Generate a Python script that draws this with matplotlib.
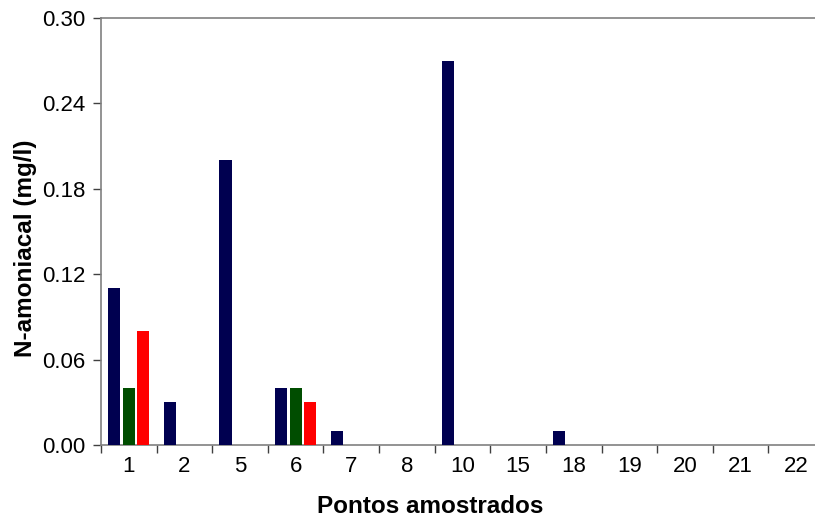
import matplotlib
matplotlib.use("Agg")
import matplotlib.pyplot as plt
import numpy as np

categories = ["1", "2", "5", "6", "7", "8", "10", "15", "18", "19", "20", "21", "22"]
series_navy = [0.11, 0.03, 0.20, 0.04, 0.01, 0, 0.27, 0, 0.01, 0, 0, 0, 0]
series_green = [0.04, 0, 0, 0.04, 0, 0, 0, 0, 0, 0, 0, 0, 0]
series_red = [0.08, 0, 0, 0.03, 0, 0, 0, 0, 0, 0, 0, 0, 0]
y_ticks = [0.00, 0.06, 0.12, 0.18, 0.24, 0.30]

plt.rcParams['font.family'] = ['Liberation Sans', 'DejaVu Sans']

fig = plt.figure(figsize=(8.15, 5.17), dpi=100)
W, H = 815, 517
ax = fig.add_axes([101 / W, 1 - 445 / H, 723 / W, 427 / H])

x = np.arange(len(categories))
off = 0.262
bw = 0.22
for vals, dx, col in [(series_navy, -off, '#000050'),
                      (series_green, 0, '#004d00'),
                      (series_red, off, '#ff0000')]:
    v = np.array(vals, dtype=float)
    m = v > 0
    ax.bar(x[m] + dx, v[m], width=bw, color=col, edgecolor='none', zorder=3)

ax.set_xlim(-0.5, len(categories) - 0.5)
ax.set_ylim(0, 0.30)
ax.set_yticks(y_ticks)
ax.set_yticklabels([f"{t:.2f}" for t in y_ticks])
ax.set_xticks(x)
ax.set_xticklabels(categories)
ax.set_xticks(np.arange(len(categories) + 1) - 0.5, minor=True)
ax.tick_params(axis='x', which='major', length=0, pad=8, labelsize=16)
ax.tick_params(axis='x', which='minor', length=6, width=1, color='#404040', direction='out')
ax.tick_params(axis='y', length=6, width=1, color='#404040', direction='out', pad=5, labelsize=16)

spine_col = '#808080'
for s in ['left', 'bottom', 'top']:
    ax.spines[s].set_color(spine_col)
    ax.spines[s].set_linewidth(1.2)
ax.spines['right'].set_visible(False)

ax.set_xlabel("Pontos amostrados", fontsize=17.5, fontweight='bold', labelpad=13)
ax.set_ylabel("N-amoniacal (mg/l)", fontsize=17.5, fontweight='bold', labelpad=4)
ax.xaxis.label.set_x(0.455)
ax.yaxis.label.set_y(0.461)

fig.savefig("out.png", dpi=100)
